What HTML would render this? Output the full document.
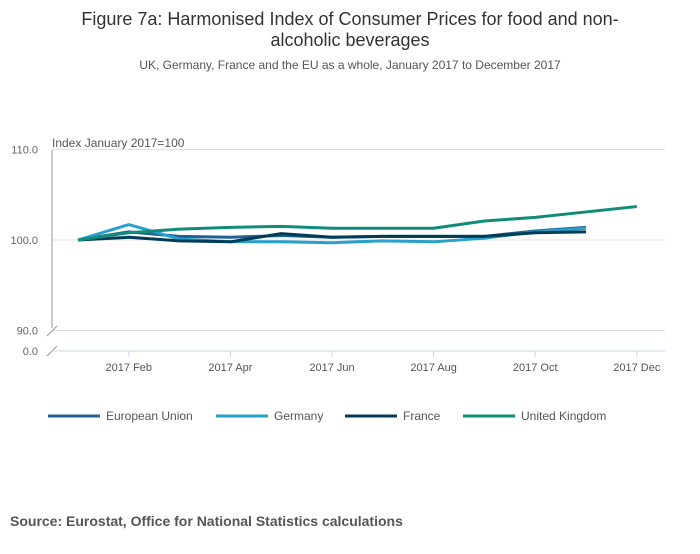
<!DOCTYPE html>
<html><head><meta charset="utf-8"><style>
body{margin:0;background:#fff;font-family:"Liberation Sans",sans-serif;}
svg text{font-family:"Liberation Sans",sans-serif;}
</style></head><body>
<svg width="700" height="549" xmlns="http://www.w3.org/2000/svg">
<text x="350" y="25" text-anchor="middle" font-size="18" fill="#333">Figure 7a: Harmonised Index of Consumer Prices for food and non-</text>
<text x="350" y="46" text-anchor="middle" font-size="18" fill="#333">alcoholic beverages</text>
<text x="350" y="69" text-anchor="middle" font-size="12" fill="#555">UK, Germany, France and the EU as a whole, January 2017 to December 2017</text>
<text x="52" y="147" font-size="12" fill="#555">Index January 2017=100</text>
<g id="grid"></g>
<g id="lines"></g>
<g id="legend"></g>
<text x="10" y="526" font-size="14" font-weight="bold" fill="#555">Source: Eurostat, Office for National Statistics calculations</text>
</svg>
<script>
const months=["Jan","Feb","Mar","Apr","May","Jun","Jul","Aug","Sep","Oct","Nov","Dec"];
const xTickLabels=["2017 Feb","2017 Apr","2017 Jun","2017 Aug","2017 Oct","2017 Dec"];
const yTicks=[90,100,110];
const seriesNames=["European Union","Germany","France","United Kingdom"];
const euValues=[100,100.9,100.4,100.3,100.5,100.3,100.4,100.4,100.4,101.0,101.4];
const deValues=[100,101.7,100.1,99.8,99.8,99.7,99.9,99.8,100.2,100.9,101.3];
const frValues=[100,100.3,99.9,99.8,100.7,100.3,100.4,100.4,100.4,100.8,100.9];
const ukValues=[100,100.8,101.2,101.4,101.5,101.3,101.3,101.3,102.1,102.5,103.1,103.7];
const colors=["#206095","#27a0cc","#003c57","#118c7b"];
const NS="http://www.w3.org/2000/svg";
const x=i=>78+i*50.8;
const y=v=>240-(v-100)*9.05;
function mk(t,a,p){const e=document.createElementNS(NS,t);for(const k in a)e.setAttribute(k,a[k]);p.appendChild(e);return e;}
const grid=document.getElementById('grid');
yTicks.forEach(v=>{
 const l=mk('line',{x1:52,x2:665,y1:y(v),y2:y(v),stroke:'#e0e0e0'},grid);
 
 
 const t=mk('text',{x:38,y:y(v)+4,'text-anchor':'end','font-size':11,fill:'#666'},grid);
 t.textContent=v.toFixed(1);
 
 
});
const zl=mk('text',{x:38,y:355,'text-anchor':'end','font-size':11,fill:'#666'},grid);zl.textContent='0.0';


const ax=mk('line',{x1:52,x2:52,y1:150,y2:328,stroke:'#999'},grid);


mk('path',{d:'M47,336 L57,326 M47,356 L57,346',stroke:'#999',fill:'none'},grid);
const xa=mk('line',{x1:52,x2:665,y1:351,y2:351,stroke:'#c8d4e8'},grid);


xTickLabels.forEach((lab,k)=>{
 const i=2*k+1;
 mk('line',{x1:x(i),x2:x(i),y1:351,y2:357,stroke:'#c8d4e8'},grid);
 const t=mk('text',{x:x(i),y:371,'text-anchor':'middle','font-size':11,fill:'#555'},grid);
 t.textContent=lab;
 
 
});
const lines=document.getElementById('lines');
[euValues,deValues,frValues,ukValues].forEach((vals,s)=>{
 const p=mk('polyline',{points:vals.map((v,i)=>x(i)+','+y(v)).join(' '),fill:'none',stroke:colors[s],'stroke-width':3,'stroke-linejoin':'round'},lines);
 
 
});
const legX=[48,216,345,463];
const leg=document.getElementById('legend');
seriesNames.forEach((n,s)=>{
 const g=mk('g',{},leg);
 
 
 mk('line',{x1:legX[s],x2:legX[s]+52,y1:416,y2:416,stroke:colors[s],'stroke-width':3},g);
 const t=mk('text',{x:legX[s]+58,y:420,'font-size':12,fill:'#555'},g);t.textContent=n;
});
</script>
</body></html>
